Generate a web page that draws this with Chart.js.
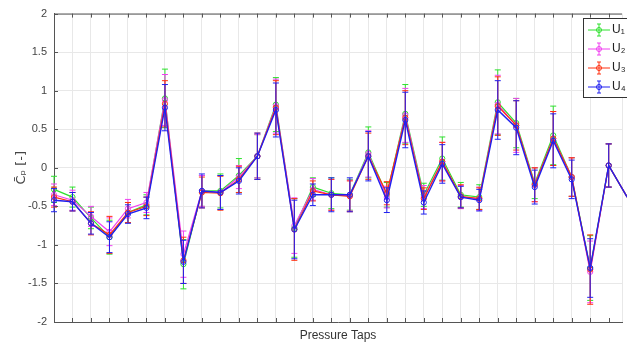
<!DOCTYPE html>
<html>
<head>
<meta charset="utf-8">
<script src="https://cdn.jsdelivr.net/npm/chart.js@4"></script>
<style>
html,body{margin:0;padding:0;background:#fff}
#wrap{width:627px;height:349px}
</style>
</head>
<body>
<div id="wrap"><canvas id="c"></canvas></div>
<script>
// tap index along the model, last one sits just past the visible edge
const taps=[0,1,2,3,4,5,6,7,8,9,10,11,12,13,14,15,16,17,18,19,20,21,22,23,24,25,26,27,28,29,30,31];
const yTicks=[-2,-1.5,-1,-0.5,0,0.5,1,1.5,2];
const yTickLabels=["-2","-1.5","-1","-0.5","0","0.5","1","1.5","2"];
const names=["U\u2081","U\u2082","U\u2083","U\u2084"];

const u1=[-0.28,-0.38,-0.65,-0.90,-0.58,-0.48,0.90,-1.25,-0.30,-0.30,-0.10,0.15,0.82,-0.78,-0.25,-0.33,-0.35,0.20,-0.35,0.70,-0.35,0.12,-0.35,-0.38,0.85,0.58,-0.20,0.42,-0.12,-1.30,0.03,-0.38];
const u2=[-0.35,-0.42,-0.63,-0.83,-0.53,-0.45,0.88,-1.12,-0.30,-0.32,-0.12,0.15,0.80,-0.75,-0.28,-0.35,-0.36,0.18,-0.38,0.68,-0.38,0.08,-0.38,-0.40,0.82,0.55,-0.22,0.38,-0.12,-1.35,0.03,-0.38];
const u3=[-0.38,-0.44,-0.72,-0.87,-0.58,-0.50,0.83,-1.20,-0.32,-0.33,-0.15,0.15,0.78,-0.80,-0.30,-0.35,-0.37,0.15,-0.33,0.65,-0.40,0.08,-0.37,-0.40,0.80,0.55,-0.22,0.38,-0.12,-1.32,0.03,-0.38];
const u4=[-0.42,-0.44,-0.72,-0.90,-0.60,-0.52,0.78,-1.22,-0.30,-0.32,-0.17,0.15,0.75,-0.80,-0.35,-0.35,-0.35,0.15,-0.42,0.62,-0.45,0.05,-0.38,-0.42,0.75,0.52,-0.25,0.35,-0.15,-1.30,0.03,-0.38];

const e1=[0.17,0.13,0.14,0.22,0.13,0.13,0.38,0.32,0.20,0.22,0.22,0.28,0.35,0.38,0.12,0.20,0.20,0.33,0.16,0.38,0.15,0.28,0.16,0.16,0.42,0.32,0.20,0.38,0.25,0.42,0.28,0.20];
const e2=[0.14,0.13,0.13,0.18,0.12,0.13,0.33,0.30,0.20,0.22,0.15,0.28,0.35,0.36,0.14,0.20,0.20,0.30,0.14,0.35,0.15,0.25,0.15,0.15,0.38,0.35,0.22,0.35,0.25,0.40,0.28,0.20];
const e3=[0.13,0.12,0.15,0.24,0.13,0.12,0.30,0.30,0.20,0.22,0.17,0.30,0.35,0.40,0.13,0.20,0.20,0.30,0.15,0.35,0.14,0.25,0.15,0.14,0.38,0.32,0.22,0.35,0.25,0.45,0.28,0.20];
const e4=[0.15,0.12,0.14,0.20,0.12,0.14,0.30,0.28,0.22,0.22,0.17,0.30,0.35,0.38,0.14,0.22,0.22,0.32,0.16,0.36,0.15,0.25,0.14,0.14,0.38,0.35,0.22,0.35,0.25,0.38,0.28,0.20];

const cols=["#2ee02e","#f040f0","#ff3010","#2020f0"];
const vals=[u1,u2,u3,u4];
const errs=[e1,e2,e3,e4];

const datasets=vals.map((v,i)=>({
  label:names[i],
  data:taps.map((t,j)=>({x:t,y:v[j]})),
  err:errs[i],
  borderColor:cols[i],
  backgroundColor:cols[i],
  borderWidth:i==3?1.4:1.2,
  pointRadius:2.6,
  pointBorderWidth:1,
  pointBackgroundColor:"rgba(255,255,255,0)",
  pointBorderColor:cols[i],
  tension:0,
  clip:false,
  order:4-i
}));

const errorBars={
  id:"errorBars",
  afterDatasetDraw(chart,args){
    const ds=chart.data.datasets[args.index];
    const ys=chart.scales.y;
    const ctx=chart.ctx;
    ctx.save();
    ctx.beginPath();
    ctx.rect(0,chart.chartArea.top-5,chart.chartArea.right,chart.chartArea.bottom-chart.chartArea.top+10);
    ctx.clip();
    ctx.strokeStyle=ds.borderColor;
    ctx.lineWidth=1;
    args.meta.data.forEach((el,j)=>{
      const v=ds.data[j].y, e=ds.err[j];
      const top=ys.getPixelForValue(v+e), bot=ys.getPixelForValue(v-e);
      ctx.beginPath();
      ctx.moveTo(el.x,top);ctx.lineTo(el.x,bot);
      ctx.moveTo(el.x-3,top);ctx.lineTo(el.x+3,top);
      ctx.moveTo(el.x-3,bot);ctx.lineTo(el.x+3,bot);
      ctx.stroke();
    });
    ctx.restore();
  }
};

const frame={
  id:"frame",
  afterDraw(chart){
    const ctx=chart.ctx, a=chart.chartArea, xs=chart.scales.x, ys=chart.scales.y;
    ctx.save();
    ctx.strokeStyle="#555";
    ctx.lineWidth=1;
    ctx.beginPath();
    ctx.moveTo(a.left,a.top+0.5);ctx.lineTo(a.right,a.top+0.5);
    for(let t=0;t<=30;t++){
      const px=Math.round(xs.getPixelForValue(t))+0.5;
      ctx.moveTo(px,a.bottom);ctx.lineTo(px,a.bottom-4);
      ctx.moveTo(px,a.top);ctx.lineTo(px,a.top+4);
    }
    yTicks.forEach(v=>{
      const py=Math.round(ys.getPixelForValue(v))+0.5;
      ctx.moveTo(a.left,py);ctx.lineTo(a.left+4,py);
    });
    ctx.stroke();

    // legend box
    ctx.fillStyle="#fff";
    ctx.fillRect(583.5,18.5,60,79);
    ctx.strokeStyle="#333";
    ctx.strokeRect(583.5,18.5,60,79);
    ctx.font="12px 'Liberation Sans', Arial, sans-serif";
    ctx.textBaseline="middle";
    names.forEach((n,i)=>{
      const y=30+i*19;
      ctx.strokeStyle=cols[i];
      ctx.beginPath();
      ctx.moveTo(588,y);ctx.lineTo(610,y);
      ctx.moveTo(599,y-6);ctx.lineTo(599,y+6);
      ctx.moveTo(597,y-6);ctx.lineTo(601,y-6);
      ctx.moveTo(597,y+6);ctx.lineTo(601,y+6);
      ctx.stroke();
      ctx.beginPath();
      ctx.arc(599,y,2.5,0,Math.PI*2);
      ctx.stroke();
      ctx.fillStyle="#222";
      ctx.fillText(n,612,y);
    });
    ctx.restore();
  }
};

new Chart(document.getElementById("c"),{
  type:"line",
  data:{datasets:datasets},
  options:{
    responsive:true,
    maintainAspectRatio:false,
    animation:false,
    layout:{padding:{top:13,right:0,left:0,bottom:0}},
    plugins:{legend:{display:false},tooltip:{enabled:false}},
    scales:{
      x:{
        type:"linear",
        min:0,
        max:30.72,
        afterFit(s){s.height=27;},
        ticks:{display:false,stepSize:1},
        grid:{color:"#e8e8e8",drawTicks:false},
        border:{display:true,color:"#555"},
        title:{display:true,text:"Pressure Taps",color:"#333",font:{size:12,family:"'Liberation Sans', Arial, sans-serif"},padding:{top:0,bottom:6}}
      },
      y:{
        min:-2,
        max:2,
        afterFit(s){s.width=54;},
        afterBuildTicks(s){s.ticks=yTicks.map(v=>({value:v}));},
        ticks:{
          color:"#444",padding:7,font:{size:11,family:"'Liberation Sans', Arial, sans-serif"},
          callback:(v)=>yTickLabels[yTicks.indexOf(v)]
        },
        grid:{color:"#e8e8e8",drawTicks:false},
        border:{display:true,color:"#555"},
        title:{display:true,text:"C\u0304\u209A [-]",color:"#444",font:{size:13,family:"'DejaVu Sans', sans-serif"},padding:{top:14,bottom:0}}
      }
    }
  },
  plugins:[errorBars,frame]
});
</script>
</body>
</html>
